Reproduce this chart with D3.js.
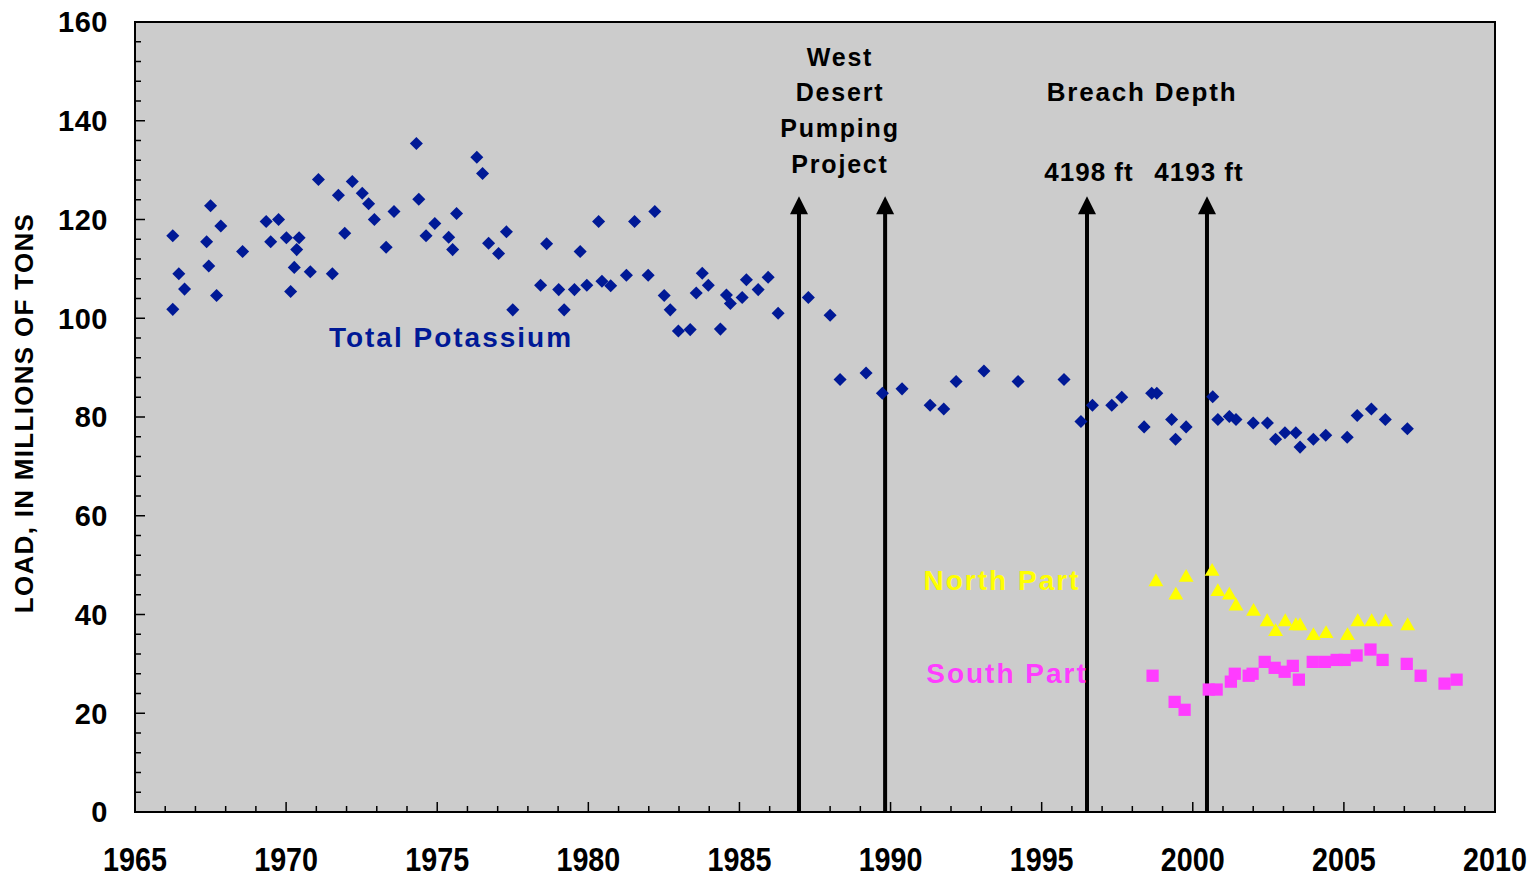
<!DOCTYPE html>
<html>
<head>
<meta charset="utf-8">
<script src="https://cdn.jsdelivr.net/npm/d3@7"></script>
<style>
  body { margin: 0; background: #fff; }
  svg text { font-family: "Liberation Sans", Arial, sans-serif; }
</style>
</head>
<body>
<div id="container"></div>
<script>
// Total potassium load, [year, millions of tons]
const totalYears = [1966.25, 1966.45, 1966.64, 1966.25, 1967.50, 1967.37, 1967.44, 1967.84, 1967.70, 1968.56,
  1969.34, 1969.75, 1969.49, 1970.01, 1970.43, 1970.35, 1970.27, 1970.15, 1970.80, 1971.07,
  1971.53, 1971.73, 1971.94, 1972.19, 1972.52, 1972.73, 1972.92, 1973.31, 1973.57, 1974.31,
  1974.39, 1974.63, 1974.92, 1975.38, 1975.51, 1975.64, 1976.31, 1976.50, 1976.70, 1977.03,
  1977.29, 1977.50, 1978.42, 1978.62, 1979.02, 1979.20, 1979.54, 1979.73, 1979.95, 1980.34,
  1980.45, 1980.74, 1981.26, 1981.53, 1981.98, 1982.20, 1982.51, 1982.71, 1982.98, 1983.37,
  1983.57, 1983.77, 1983.97, 1984.37, 1984.57, 1984.70, 1985.09, 1985.23, 1985.62, 1985.95,
  1986.28, 1987.28, 1988.00, 1988.33, 1989.19, 1989.73, 1990.38, 1991.31, 1991.76, 1992.17,
  1993.09, 1994.22, 1995.74, 1996.30, 1996.68, 1997.32, 1997.65, 1998.39, 1998.64, 1998.81,
  1999.30, 1999.43, 1999.78, 2000.66, 2000.83, 2001.21, 2001.43, 2002.00, 2002.47, 2002.74,
  2003.05, 2003.41, 2003.55, 2003.99, 2004.40, 2005.11, 2005.44, 2005.91, 2006.37, 2007.10];
const totalLoad = [116.7, 109.0, 105.9, 101.8, 122.8, 115.5, 110.6, 118.7, 104.6, 113.5,
  119.6, 120.0, 115.5, 116.3, 116.3, 113.9, 110.3, 105.4, 109.4, 128.1,
  109.0, 124.9, 117.2, 127.7, 125.3, 123.2, 120.0, 114.4, 121.6, 135.4,
  124.1, 116.7, 119.2, 116.4, 113.9, 121.2, 132.6, 129.3, 115.2, 113.1,
  117.5, 101.7, 106.7, 115.1, 105.8, 101.7, 105.8, 113.5, 106.7, 119.6,
  107.5, 106.6, 108.7, 119.6, 108.7, 121.6, 104.6, 101.7, 97.4, 97.7,
  105.1, 109.1, 106.7, 97.8, 104.7, 103.0, 104.2, 107.8, 105.8, 108.3,
  101.0, 104.2, 100.6, 87.6, 88.9, 84.8, 85.7, 82.4, 81.6, 87.2,
  89.3, 87.2, 87.6, 79.1, 82.4, 82.4, 84.0, 78.0, 84.8, 84.8,
  79.5, 75.5, 78.0, 84.1, 79.5, 80.1, 79.5, 78.8, 78.8, 75.5,
  76.8, 76.8, 73.9, 75.5, 76.3, 75.9, 80.3, 81.6, 79.5, 77.6];

// North part
const northYears = [1998.78, 1999.44, 1999.78, 2000.64, 2000.83, 2001.21, 2001.43, 2002.01, 2002.46, 2002.74,
  2003.06, 2003.41, 2003.55, 2003.99, 2004.41, 2005.12, 2005.46, 2005.92, 2006.38, 2007.11];
const northLoad = [46.6, 43.9, 47.5, 48.7, 44.6, 43.9, 41.7, 40.6, 38.5, 36.5,
  38.5, 37.7, 37.7, 35.7, 36.1, 35.7, 38.5, 38.5, 38.5, 37.7];

// South part
const southYears = [1998.67, 1999.40, 1999.73, 2000.53, 2000.79, 2001.26, 2001.39, 2001.85, 2001.98, 2002.38,
  2002.71, 2003.04, 2003.31, 2003.51, 2003.97, 2004.37, 2004.76, 2005.03, 2005.42, 2005.88,
  2006.28, 2007.08, 2007.54, 2008.33, 2008.73];
const southLoad = [27.6, 22.3, 20.7, 24.8, 24.8, 26.4, 28.0, 27.6, 28.0, 30.4,
  29.2, 28.4, 29.6, 26.8, 30.4, 30.4, 30.8, 30.8, 31.7, 32.9,
  30.8, 30.0, 27.6, 26.0, 26.8];

// event arrows
const arrowYears = [1986.97, 1989.82, 1996.5, 2000.47];
const arrowTop = 124.7;

const xTicks = d3.range(1965, 2011, 5);
const yTicks = d3.range(0, 161, 20);

const margin = { top: 22, right: 43, bottom: 71, left: 135 };
const width = 1538 - margin.left - margin.right;
const height = 883 - margin.top - margin.bottom;

const svg = d3.select('#container').append('svg')
  .attr('width', 1538)
  .attr('height', 883);

const g = svg.append('g')
  .attr('transform', `translate(${margin.left},${margin.top})`);

const x = d3.scaleLinear().domain([1965, 2010]).range([0, width]);
const y = d3.scaleLinear().domain([0, 160]).range([height, 0]);

g.append('rect')
  .attr('width', width)
  .attr('height', height)
  .attr('fill', '#cccccc');

// inward ticks, minor then major
const minorX = d3.range(1966, 2010).filter(v => v % 5 !== 0);
const minorY = d3.range(4, 160, 4).filter(v => v % 20 !== 0);

g.selectAll('.xminor').data(minorX).enter().append('line')
  .attr('x1', d => x(d)).attr('x2', d => x(d))
  .attr('y1', height).attr('y2', height - 6)
  .attr('stroke', '#000').attr('stroke-width', 1.5);
g.selectAll('.xmajor').data(xTicks).enter().append('line')
  .attr('x1', d => x(d)).attr('x2', d => x(d))
  .attr('y1', height).attr('y2', height - 10)
  .attr('stroke', '#000').attr('stroke-width', 1.5);
g.selectAll('.yminor').data(minorY).enter().append('line')
  .attr('x1', 0).attr('x2', 6)
  .attr('y1', d => y(d)).attr('y2', d => y(d))
  .attr('stroke', '#000').attr('stroke-width', 1.5);
g.selectAll('.ymajor').data(yTicks).enter().append('line')
  .attr('x1', 0).attr('x2', 10)
  .attr('y1', d => y(d)).attr('y2', d => y(d))
  .attr('stroke', '#000').attr('stroke-width', 1.5);

g.append('rect')
  .attr('width', width)
  .attr('height', height)
  .attr('fill', 'none')
  .attr('stroke', '#000')
  .attr('stroke-width', 2);

// tick labels (x labels are tall and narrow in the original)
g.selectAll('.xlab').data(xTicks).enter().append('text')
  .attr('transform', d => `translate(${x(d)},${height + 59}) scale(0.87,1)`)
  .attr('text-anchor', 'middle')
  .style('font-size', '33px')
  .style('font-weight', 'bold')
  .text(d => d);

g.selectAll('.ylab').data(yTicks).enter().append('text')
  .attr('x', -27)
  .attr('y', d => y(d))
  .attr('dy', '0.36em')
  .attr('text-anchor', 'end')
  .style('font-size', '29px')
  .style('font-weight', 'bold')
  .style('letter-spacing', '0.5px')
  .text(d => d);

svg.append('text')
  .attr('transform', `translate(33,${margin.top + height / 2 + 18 - 22}) rotate(-90)`)
  .attr('text-anchor', 'middle')
  .style('font-size', '26px')
  .style('font-weight', 'bold')
  .style('letter-spacing', '1.3px')
  .text('LOAD, IN MILLIONS OF TONS');

// arrows
g.selectAll('.arrow').data(arrowYears).enter().append('line')
  .attr('x1', d => x(d)).attr('x2', d => x(d))
  .attr('y1', y(0)).attr('y2', y(arrowTop) + 12)
  .attr('stroke', '#000').attr('stroke-width', 4);
g.selectAll('.head').data(arrowYears).enter().append('path')
  .attr('d', d => `M${x(d)},${y(arrowTop)} L${x(d) - 9},${y(arrowTop) + 18} L${x(d) + 9},${y(arrowTop) + 18} Z`)
  .attr('fill', '#000');

// points
const diamond = d3.symbol().type(d3.symbolSquare).size(85);
g.selectAll('.total').data(totalYears).enter().append('path')
  .attr('d', diamond)
  .attr('transform', (d, i) => `translate(${x(d)},${y(totalLoad[i])}) rotate(45)`)
  .attr('fill', '#001996');

const tri = d3.symbol().type(d3.symbolTriangle).size(95);
g.selectAll('.north').data(northYears).enter().append('path')
  .attr('d', tri)
  .attr('transform', (d, i) => `translate(${x(d)},${y(northLoad[i])})`)
  .attr('fill', '#ffff00');

const sq = d3.symbol().type(d3.symbolSquare).size(150);
g.selectAll('.south').data(southYears).enter().append('path')
  .attr('d', sq)
  .attr('transform', (d, i) => `translate(${x(d)},${y(southLoad[i])})`)
  .attr('fill', '#ff3cff');

// annotations
const boldLabel = (txt, cx, by, size, spacing) => g.append('text')
  .attr('x', cx - margin.left)
  .attr('y', by - margin.top)
  .attr('text-anchor', 'middle')
  .style('font-size', size + 'px')
  .style('font-weight', 'bold')
  .style('letter-spacing', spacing + 'px')
  .text(txt);

boldLabel('West', 840, 66, 25, 1.8);
boldLabel('Desert', 840, 101, 25, 1.8);
boldLabel('Pumping', 840, 137, 25, 1.8);
boldLabel('Project', 840, 173, 25, 1.8);
boldLabel('Breach Depth', 1142, 101, 26, 1.8);
boldLabel('4198 ft', 1089, 181, 26, 1);
boldLabel('4193 ft', 1199, 181, 26, 1);

const seriesLabel = (txt, cx, by, color) => g.append('text')
  .attr('x', cx - margin.left)
  .attr('y', by - margin.top)
  .attr('text-anchor', 'middle')
  .style('font-size', '28px')
  .style('font-weight', 'bold')
  .style('letter-spacing', '2px')
  .attr('fill', color)
  .text(txt);

seriesLabel('Total Potassium', 451, 347, '#001996');
seriesLabel('North Part', 1002, 590, '#ffff00');
seriesLabel('South Part', 1007, 683, '#ff3cff');
</script>
</body>
</html>
